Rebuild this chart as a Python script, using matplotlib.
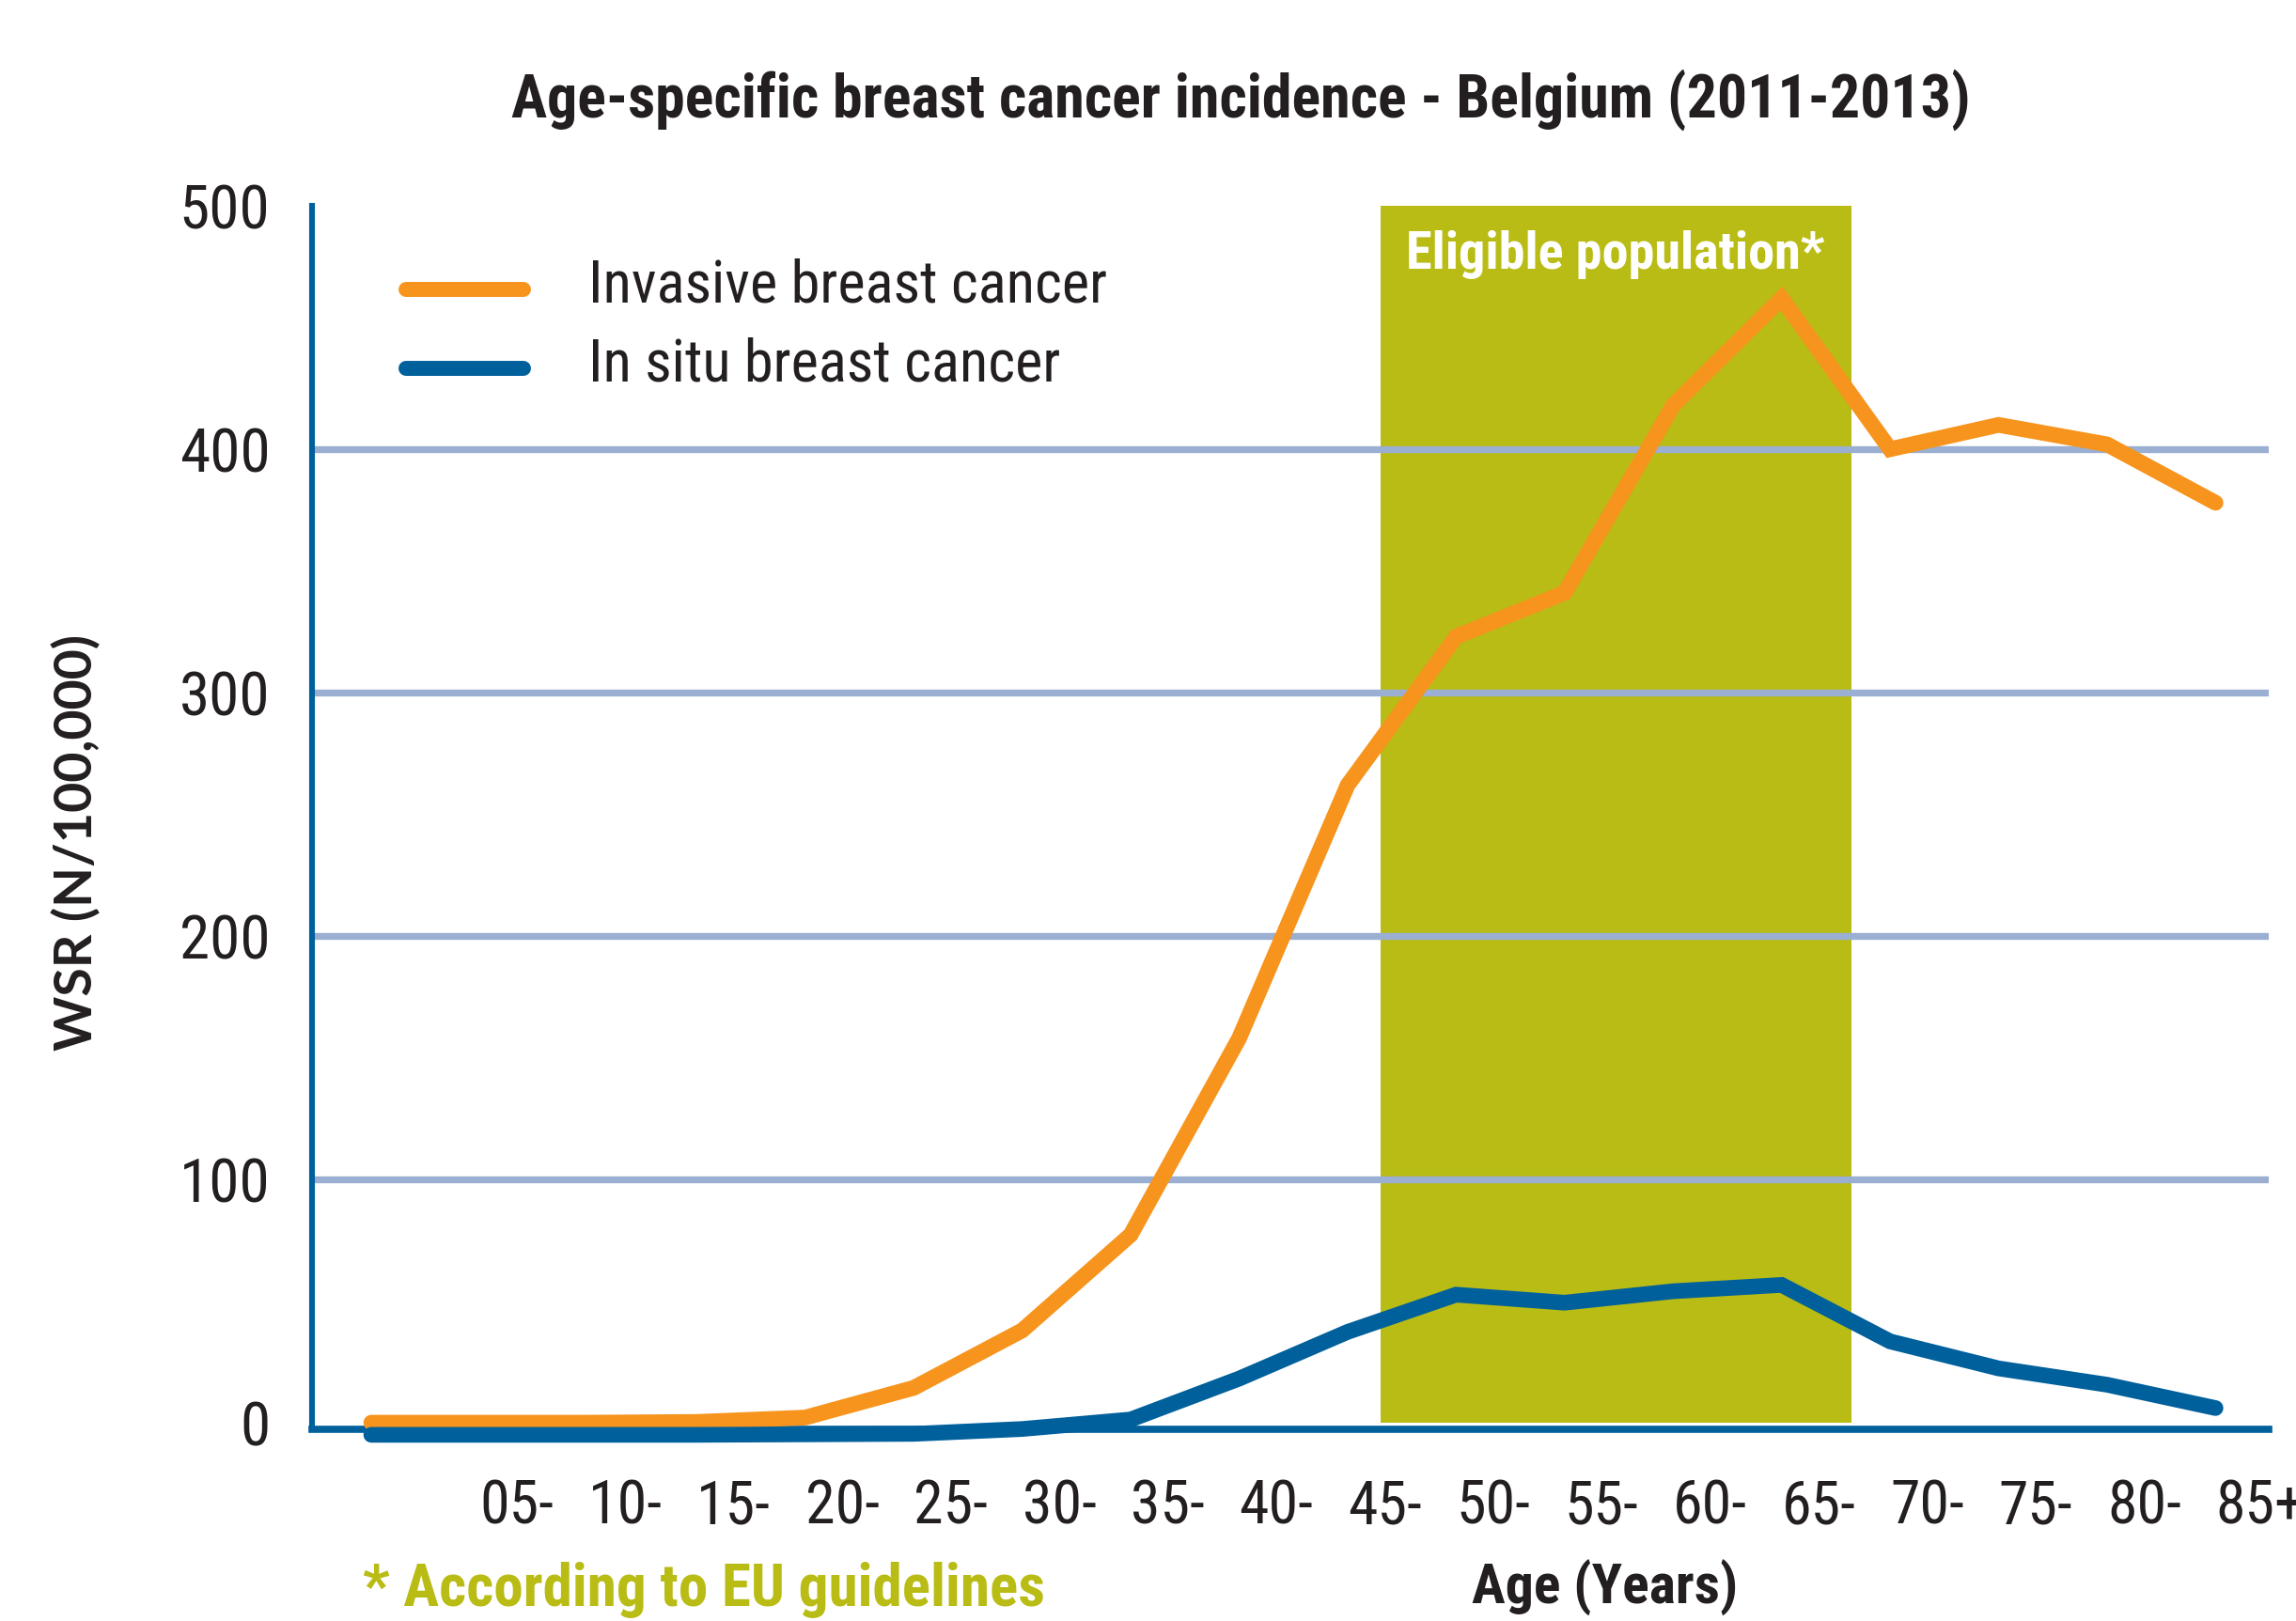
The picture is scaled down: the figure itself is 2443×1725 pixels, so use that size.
import matplotlib
matplotlib.use("Agg")
import matplotlib.pyplot as plt
from matplotlib import font_manager

# age groups: the first group (00-) has no tick label in the original
age_labels = ["05-", "10-", "15-", "20-", "25-", "30-", "35-", "40-", "45-",
              "50-", "55-", "60-", "65-", "70-", "75-", "80-", "85+"]
invasive = [0, 0, 0, 0.3, 2.1, 14.3, 37.9, 77.2, 158, 262, 323, 341,
            418, 462, 400, 410, 402, 378]
in_situ = [-5, -5, -5, -5, -4.8, -4.6, -2.6, 1.3, 18.1, 37.3, 52.6, 49.3,
           54, 56.6, 33.4, 22.3, 15.6, 6.0]
y_ticks = [0, 100, 200, 300, 400, 500]
eligible_span = (9.30, 13.64)

ORANGE = "#f7941d"
BLUE = "#00609c"
GREEN = "#b9bc15"
GRID = "#9aafd2"
TEXT = "#231f20"

# narrowest sans available
installed = {f.name for f in font_manager.fontManager.ttflist}
narrow = next((n for n in ["Roboto Condensed", "Open Sans Condensed",
                           "Liberation Sans Narrow", "Lato"] if n in installed),
              "DejaVu Sans")
plt.rcParams["font.family"] = [narrow, "DejaVu Sans"]

fig = plt.figure(figsize=(24.43, 17.25), dpi=100)
ax = fig.add_axes([0.1359, 0.1183, 0.9881 - 0.1359, 0.8730 - 0.1183])

x = list(range(len(invasive)))

ax.axvspan(eligible_span[0], eligible_span[1], ymin=0.005, ymax=1.0,
           color=GREEN, lw=0, zorder=0.4)
for lvl in y_ticks[1:-1]:
    ax.axhline(lvl, color=GRID, lw=5.3, zorder=0.5)
ax.plot(x, invasive, color=ORANGE, lw=12, solid_capstyle="round",
        solid_joinstyle="miter", zorder=3, clip_on=False)
ax.plot(x, in_situ, color=BLUE, lw=12, solid_capstyle="round",
        solid_joinstyle="miter", zorder=3, clip_on=False)

ax.set_xlim(-0.546, 17.49)
ax.set_ylim(-2.7, 496.2)

ax.set_yticks(y_ticks)
ax.set_yticklabels([str(v) for v in y_ticks], fontsize=47, color=TEXT)
ax.set_xticks(range(1, len(invasive)))
ax.set_xticklabels(age_labels, fontsize=46, color=TEXT, ha="left")
ax.tick_params(axis="both", length=0)
ax.tick_params(axis="y", pad=32)
ax.tick_params(axis="x", pad=37)
ax.grid(False)

for side in ("top", "right"):
    ax.spines[side].set_visible(False)
ax.spines["left"].set_color(BLUE)
ax.spines["left"].set_linewidth(4.4)
ax.spines["bottom"].set_color(BLUE)
ax.spines["bottom"].set_linewidth(5.5)

# legend drawn by hand, like the original
for y_val, col, label in [(465.6, ORANGE, "Invasive breast cancer"),
                          (433.2, BLUE, "In situ breast cancer")]:
    ax.plot([0.32, 1.40], [y_val, y_val], color=col, lw=11.5,
            solid_capstyle="round", zorder=4)
    ax.text(2.0, y_val + 1.5, label, fontsize=45, color=TEXT, va="center",
            ha="left", zorder=4)

ax.text(sum(eligible_span) / 2, 480, "Eligible population*", color="white",
        fontsize=40.5, fontweight="bold", ha="center", va="center", zorder=4)

fig.text(1320 / 2443, 1 - 106 / 1725,
         "Age-specific breast cancer incidence - Belgium (2011-2013)",
         fontsize=46, fontweight="bold", color=TEXT, ha="center", va="center")
fig.text(81 / 2443, 1 - 896 / 1725, "WSR (N/100,000)", rotation=90,
         family=["Lato", "DejaVu Sans"], fontsize=40, fontweight="bold",
         color=TEXT, ha="center", va="center")
fig.text(1708 / 2443, 1 - 1690 / 1725, "Age (Years)", fontsize=43,
         fontweight="bold", color=TEXT, ha="center", va="center")
fig.text(386 / 2443, 1 - 1692 / 1725, "* According to EU guidelines",
         fontsize=45.5, fontweight="bold", color=GREEN, ha="left", va="center")

fig.savefig("out.png", dpi=100)
